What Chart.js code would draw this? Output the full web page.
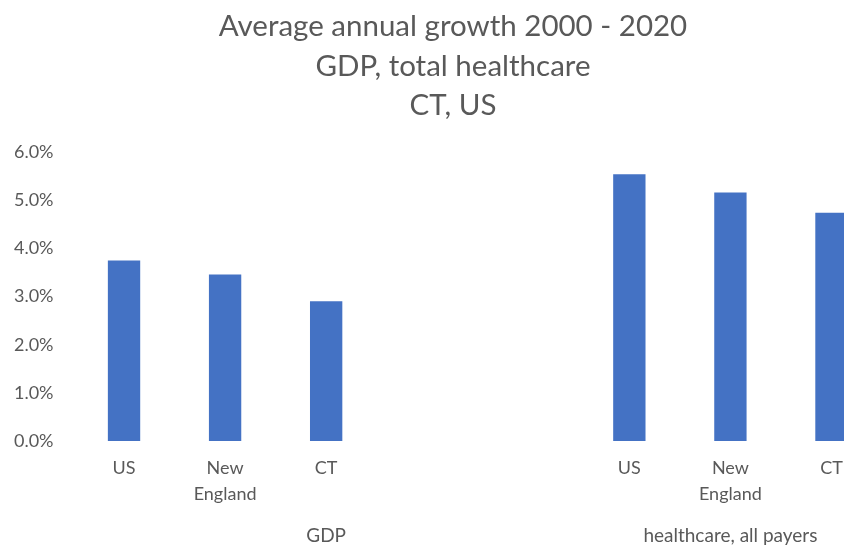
<!DOCTYPE html>
<html>
<head>
<meta charset="utf-8">
<script src="https://cdn.jsdelivr.net/npm/chart.js@4.4.1/dist/chart.umd.min.js"></script>
<style>
  html, body { margin: 0; padding: 0; overflow: hidden; background: #fff; }
  #wrap { width: 906px; height: 546px; }
</style>
</head>
<body>
<div id="wrap"><canvas id="chart"></canvas></div>
<script>
// categories (two blank slots separate the groups, as in the spreadsheet)
const categories = ['US', ['New', 'England'], 'CT', '', '', 'US', ['New', 'England'], 'CT'];
const groupLabels = ['', '', 'GDP', '', '', '', 'healthcare, all payers', ''];
// average annual growth, percent
const growth = [3.75, 3.46, 2.90, null, null, 5.54, 5.16, 4.74];
const yTicks = [0, 1, 2, 3, 4, 5, 6];

const grey = '#595959';
const font = 'Lato, "Open Sans", sans-serif';

new Chart(document.getElementById('chart'), {
    type: 'bar',
    data: {
        labels: categories,
        datasets: [{
            label: 'growth',
            data: growth,
            backgroundColor: '#4472C4',
            categoryPercentage: 1,
            barPercentage: 0.32,
            xAxisID: 'x'
        }]
    },
    options: {
        responsive: true,
        maintainAspectRatio: false,
        animation: false,
        layout: {
            padding: { left: 8, right: 8, top: 7, bottom: 0 }
        },
        scales: {
            y: {
                min: 0,
                max: 6,
                afterBuildTicks: (axis) => {
                    axis.ticks = yTicks.map(v => ({ value: v }));
                },
                afterFit: (axis) => { axis.width = 65.5; },
                grid: { display: false, drawTicks: false },
                border: { display: false },
                ticks: {
                    color: grey,
                    font: { family: font, size: 18 },
                    padding: 20,
                    callback: (v) => v.toFixed(1) + '%'
                }
            },
            // empty right-hand spacer so the title centres over the whole picture
            spacer: {
                position: 'right',
                min: 0,
                max: 6,
                afterFit: (axis) => { axis.width = 16; },
                grid: { display: false, drawTicks: false },
                border: { display: false },
                ticks: { display: false }
            },
            x: {
                afterFit: (axis) => { axis.height = 65; },
                grid: { display: false, drawTicks: false },
                border: { display: false },
                ticks: {
                    color: grey,
                    font: { family: font, size: 18, lineHeight: 1.444 },
                    autoSkip: false,
                    maxRotation: 0,
                    padding: 14
                }
            },
            group: {
                type: 'category',
                position: 'bottom',
                labels: groupLabels,
                afterFit: (axis) => { axis.height = 40; },
                grid: { display: false, drawTicks: false },
                border: { display: false },
                ticks: {
                    color: grey,
                    font: { family: font, size: 19 },
                    autoSkip: false,
                    maxRotation: 0,
                    padding: 18
                }
            }
        },
        plugins: {
            legend: { display: false },
            tooltip: { enabled: false },
            title: {
                display: true,
                text: ['Average annual growth 2000 - 2020', 'GDP, total healthcare', 'CT, US'],
                color: grey,
                font: { family: font, size: 29.5, weight: 'normal', lineHeight: 1.34 },
                padding: { top: 0, bottom: 26.5 }
            }
        }
    }
});
</script>
</body>
</html>
